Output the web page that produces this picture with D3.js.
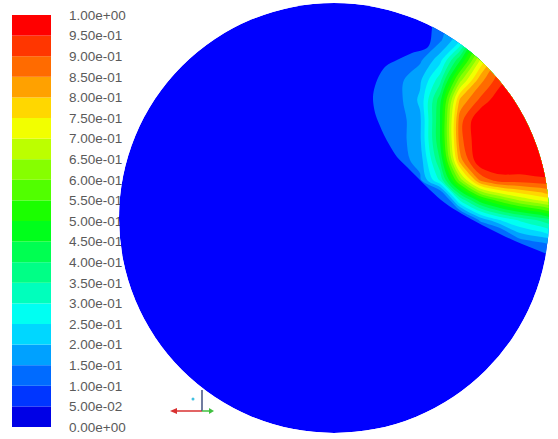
<!DOCTYPE html>
<html>
<head>
<meta charset="utf-8">
<script src="https://cdn.jsdelivr.net/npm/d3@7"></script>
<style>
  body { margin: 0; background: #fff; }
  text { font-family: "Liberation Sans", Arial, sans-serif; }
</style>
</head>
<body>
<svg id="chart" width="558" height="439"></svg>
<script>
// legend labels, top to bottom
const legendLabels = ["1.00e+00","9.50e-01","9.00e-01","8.50e-01","8.00e-01","7.50e-01","7.00e-01",
  "6.50e-01","6.00e-01","5.50e-01","5.00e-01","4.50e-01","4.00e-01","3.50e-01","3.00e-01",
  "2.50e-01","2.00e-01","1.50e-01","1.00e-01","5.00e-02","0.00e+00"];
const legendValues = [1,0.95,0.9,0.85,0.8,0.75,0.7,0.65,0.6,0.55,0.5,0.45,0.4,0.35,0.3,0.25,0.2,0.15,0.1,0.05,0];
// contour levels drawn from the field
const thresholds = [0.15,0.2,0.25,0.3,0.35,0.4,0.45,0.5,0.55,0.6,0.65,0.7,0.75,0.8,0.85,0.9,0.95];

// outer edge of the plume (0.10-0.15 zone), pixel coords
const plumeEdge = [[433,-10],[432,28],[428,47],[412,53],[397,60],[386,66],[380,74],[375,86],[373,97],
  [374,108],[376,116],[380,126],[384,135],[390,146],[397,157],[407,167],[418,178],[430,190],
  [445,203],[462,214],[482,225],[502,235],[522,244],[542,252],[560,259],[600,262],[600,-10]];

const gridX = [360,380,400,420,440,460,480,500,520,540,560];
const gridY = [0,20,40,60,80,100,120,140,160,180,200,220,240,260,280];
const fieldRows = [
  [0,0,0,0,.13,.15,.25,.59,.84,.97,1],
  [0,0,0,0,.13,.18,.37,.71,.90,.99,1],
  [0,0,0,0,.14,.24,.56,.83,.97,1,1],
  [0,0,.13,.14,.23,.44,.70,.89,.99,1,1],
  [0,.13,.14,.19,.33,.63,.83,.93,1,1,1],
  [0,.13,.14,.21,.43,.81,.91,.99,1,1,1],
  [0,.13,.13,.19,.45,.88,1,1,1,1,1],
  [0,0,.13,.19,.45,.88,1,1,1,1,1],
  [0,0,.13,.17,.40,.83,1,1,1,1,1],
  [0,0,0,.14,.31,.62,.86,.93,.93,.94,.94],
  [0,0,0,0,0,.31,.48,.58,.66,.71,.75],
  [0,0,0,0,0,0,.16,.25,.31,.36,.41],
  [0,0,0,0,0,0,0,0,.14,.17,.20],
  [0,0,0,0,0,0,0,0,0,0,0],
  [0,0,0,0,0,0,0,0,0,0,0]
];

const svg = d3.select("#chart");

// rainbow band colours, blue (band 0) -> red (band 19)
const bandColor = i => d3.hsl(240 * (1 - i / 19), 1, 0.5).formatHex();

// ---- legend ----
const yLegend = d3.scaleLinear().domain([0, 1]).range([427, 15]);
const legend = svg.append("g");
legend.selectAll(".band")
  .data(d3.range(20))
  .join("rect")
  .attr("class", "band")
  .attr("x", 12)
  .attr("width", 39)
  .attr("y", i => yLegend(legendValues[19 - i]))
  .attr("height", i => yLegend(legendValues[20 - i]) - yLegend(legendValues[19 - i]))
  .attr("fill", i => i === 0 ? "#0000e6" : bandColor(i));

legend.selectAll(".lab")
  .data(legendLabels)
  .join("text")
  .attr("class", "lab")
  .attr("x", 69)
  .attr("y", (d, i) => yLegend(legendValues[i]))
  .attr("dy", "0.35em")
  .style("font-size", "13.5px")
  .style("fill", "#5a5a5a")
  .text(d => d);

// ---- disc ----
const cx = 334, cy = 218, r = 215;
svg.append("clipPath").attr("id", "disc")
  .append("circle").attr("cx", cx).attr("cy", cy).attr("r", r);

const plot = svg.append("g").attr("clip-path", "url(#disc)");
plot.append("circle").attr("cx", cx).attr("cy", cy).attr("r", r).attr("fill", bandColor(0));

plot.append("path")
  .attr("d", d3.line().curve(d3.curveCatmullRomClosed.alpha(0.5))(plumeEdge))
  .attr("fill", bandColor(2));

const nx = gridX.length, ny = gridY.length;
const values = fieldRows.flat();
const xPix = d3.scaleLinear().domain([0, nx - 1]).range([gridX[0], gridX[nx - 1]]);
const yPix = d3.scaleLinear().domain([0, ny - 1]).range([gridY[0], gridY[ny - 1]]);

const contours = d3.contours().size([nx, ny]).thresholds(thresholds)(values);
const ringLine = d3.line()
  .x(p => xPix(p[0] - 0.5))
  .y(p => yPix(p[1] - 0.5))
  .curve(d3.curveCatmullRomClosed.alpha(0.5));

plot.selectAll(".level")
  .data(contours)
  .join("path")
  .attr("class", "level")
  .attr("d", c => c.coordinates.map(poly => poly.map(ring => ringLine(ring.slice(0, -1))).join("")).join(""))
  .attr("fill", c => bandColor(Math.round(c.value / 0.05)));

// ---- axis triad ----
const triad = svg.append("g");
triad.append("line").attr("x1", 175).attr("y1", 411).attr("x2", 202).attr("y2", 411)
  .attr("stroke", "#d83030").attr("stroke-width", 1.5);
triad.append("path").attr("d", "M170,411 L177,408 L177,414 Z").attr("fill", "#d83030");
triad.append("line").attr("x1", 202).attr("y1", 390).attr("x2", 202).attr("y2", 411)
  .attr("stroke", "#405080").attr("stroke-width", 1.5);
triad.append("line").attr("x1", 202).attr("y1", 411).attr("x2", 211).attr("y2", 411)
  .attr("stroke", "#40c040").attr("stroke-width", 1.5);
triad.append("path").attr("d", "M214,411 L209,408 L209,414 Z").attr("fill", "#40c040");
triad.append("circle").attr("cx", 193).attr("cy", 399).attr("r", 1.5).attr("fill", "#40c0e0");
</script>
</body>
</html>
